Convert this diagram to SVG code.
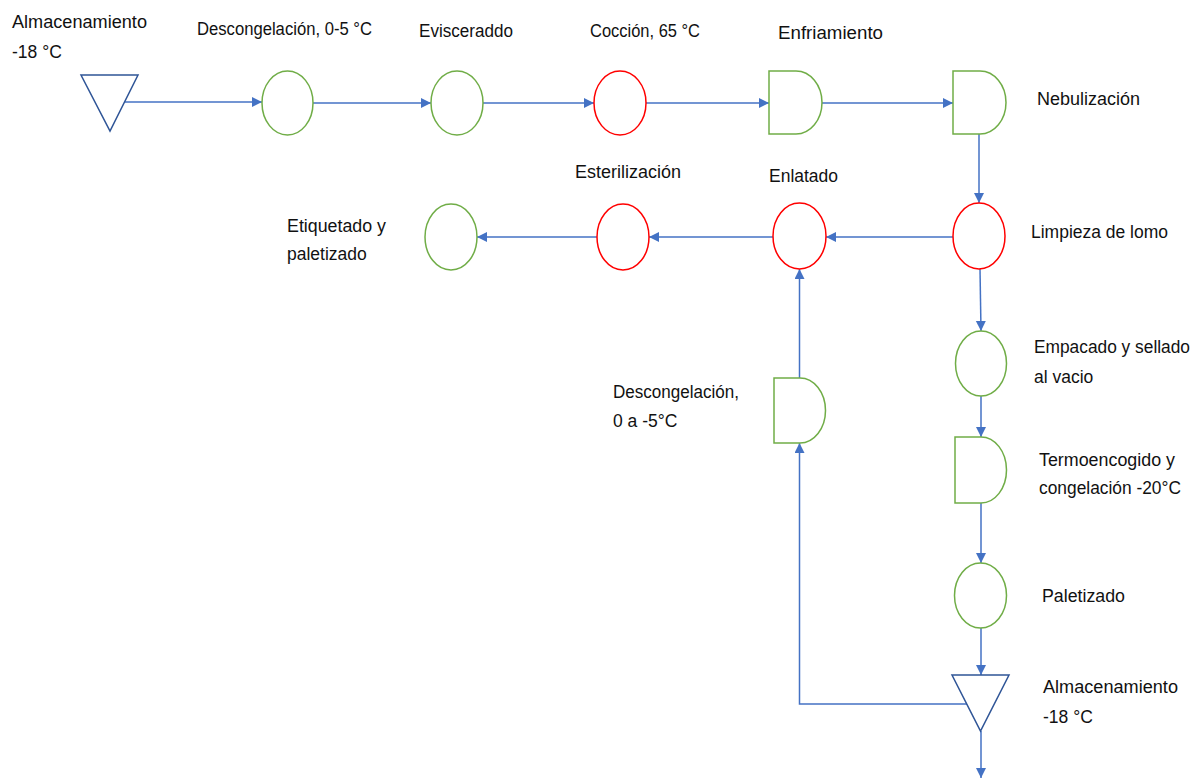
<svg xmlns="http://www.w3.org/2000/svg" width="1202" height="778" viewBox="0 0 1202 778">
<style>
text{font-family:"Liberation Sans",Arial,sans-serif;font-size:17.5px;fill:#111}
.g{fill:none;stroke:#70AD47;stroke-width:1.5}
.r{fill:none;stroke:#FF0000;stroke-width:1.5}
.t{fill:none;stroke:#2F5597;stroke-width:1.5}
.c{fill:none;stroke:#4472C4;stroke-width:1.5}
</style>
<defs>
<marker id="ah" markerUnits="userSpaceOnUse" markerWidth="11" markerHeight="11" refX="10" refY="5" orient="auto">
<path d="M0,0 L10,5 L0,10 Z" fill="#4472C4"/>
</marker>
</defs>
<rect width="1202" height="778" fill="#fff"/>
<g id="connectors">
<path class="c" d="M125,102 H262" marker-end="url(#ah)"/>
<path class="c" d="M313,103 H431" marker-end="url(#ah)"/>
<path class="c" d="M483,103 H594" marker-end="url(#ah)"/>
<path class="c" d="M646,103 H769" marker-end="url(#ah)"/>
<path class="c" d="M822,103 H953" marker-end="url(#ah)"/>
<path class="c" d="M979,134 V203" marker-end="url(#ah)"/>
<path class="c" d="M953,237 H826" marker-end="url(#ah)"/>
<path class="c" d="M773,237 H649" marker-end="url(#ah)"/>
<path class="c" d="M597,237 H477" marker-end="url(#ah)"/>
<path class="c" d="M980,269 L981,331" marker-end="url(#ah)"/>
<path class="c" d="M981,396 V437" marker-end="url(#ah)"/>
<path class="c" d="M981,503 V563" marker-end="url(#ah)"/>
<path class="c" d="M981,628 V675" marker-end="url(#ah)"/>
<path class="c" d="M981,731 V778" marker-end="url(#ah)"/>
<path class="c" d="M967,704 H799.5 V443" marker-end="url(#ah)"/>
<path class="c" d="M799.5,378 V269" marker-end="url(#ah)"/>
</g>
<g id="almacenamiento1">
<path class="t" d="M81,75 H138 L110,131 Z"/>
<text x="12" y="28" textLength="135" lengthAdjust="spacingAndGlyphs">Almacenamiento</text>
<text x="12" y="58">-18 °C</text>
</g>
<g id="descongelacion1">
<ellipse class="g" cx="287.5" cy="103" rx="25.5" ry="32"/>
<text x="197" y="35" textLength="175" lengthAdjust="spacingAndGlyphs">Descongelación, 0-5 °C</text>
</g>
<g id="eviscerado">
<ellipse class="g" cx="457" cy="103" rx="26" ry="32"/>
<text x="419" y="37" textLength="94" lengthAdjust="spacingAndGlyphs">Evisceraddo</text>
</g>
<g id="coccion">
<ellipse class="r" cx="620" cy="103" rx="26" ry="32"/>
<text x="590" y="37" textLength="110" lengthAdjust="spacingAndGlyphs">Cocción, 65 °C</text>
</g>
<g id="enfriamiento">
<path class="g" d="M769,71 H796 A26,31.5 0 0 1 796,134 H769 Z"/>
<text x="778" y="39" textLength="105" lengthAdjust="spacingAndGlyphs">Enfriamiento</text>
</g>
<g id="nebulizacion">
<path class="g" d="M953,71 H980 A26,31.5 0 0 1 980,134 H953 Z"/>
<text x="1037" y="105" textLength="103" lengthAdjust="spacingAndGlyphs">Nebulización</text>
</g>
<g id="limpieza">
<ellipse class="r" cx="979" cy="236" rx="26" ry="33"/>
<text x="1031" y="238" textLength="137" lengthAdjust="spacingAndGlyphs">Limpieza de lomo</text>
</g>
<g id="enlatado">
<ellipse class="r" cx="799.5" cy="236" rx="26.5" ry="33"/>
<text x="769" y="182" textLength="69" lengthAdjust="spacingAndGlyphs">Enlatado</text>
</g>
<g id="esterilizacion">
<ellipse class="r" cx="623" cy="237" rx="26" ry="33"/>
<text x="575" y="178" textLength="106" lengthAdjust="spacingAndGlyphs">Esterilización</text>
</g>
<g id="etiquetado">
<ellipse class="g" cx="451" cy="237" rx="26" ry="33"/>
<text x="287" y="232" textLength="99" lengthAdjust="spacingAndGlyphs">Etiquetado y</text>
<text x="287" y="260">paletizado</text>
</g>
<g id="descongelacion2">
<path class="g" d="M774,378 H800 A25.5,32.5 0 0 1 800,443 H774 Z"/>
<text x="613" y="398" textLength="126" lengthAdjust="spacingAndGlyphs">Descongelación,</text>
<text x="613" y="427">0 a -5°C</text>
</g>
<g id="empacado">
<ellipse class="g" cx="981" cy="363.5" rx="25.5" ry="32.5"/>
<text x="1034" y="353" textLength="156" lengthAdjust="spacingAndGlyphs">Empacado y sellado</text>
<text x="1034" y="383">al vacio</text>
</g>
<g id="termoencogido">
<path class="g" d="M955,437 H981 A25.5,33 0 0 1 981,503 H955 Z"/>
<text x="1039" y="466" textLength="136" lengthAdjust="spacingAndGlyphs">Termoencogido y</text>
<text x="1039" y="494" textLength="142" lengthAdjust="spacingAndGlyphs">congelación -20°C</text>
</g>
<g id="paletizado">
<ellipse class="g" cx="980.5" cy="595.5" rx="26" ry="32.5"/>
<text x="1042" y="602" textLength="83" lengthAdjust="spacingAndGlyphs">Paletizado</text>
</g>
<g id="almacenamiento2">
<path class="t" d="M952,675 H1009 L980.5,731 Z"/>
<text x="1043" y="693" textLength="135" lengthAdjust="spacingAndGlyphs">Almacenamiento</text>
<text x="1043" y="723">-18 °C</text>
</g>
</svg>
